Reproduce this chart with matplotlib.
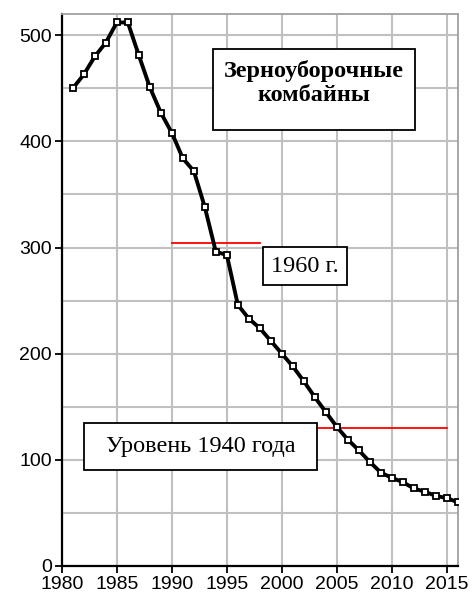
import matplotlib.pyplot as plt
from matplotlib.patches import Rectangle

# Данные: количество комбайнов, тыс. шт.
years = list(range(1981, 2017))
values = [450, 463, 480, 493, 512, 512, 481, 451, 427, 408,
          384, 372, 338, 296, 293, 246, 233, 224, 212, 200,
          188, 174, 159, 145, 131, 119, 109, 98, 88, 83,
          79, 73, 70, 66, 64, 60]

level_1960 = 304
level_1940 = 130

plt.rcParams['font.family'] = ['Liberation Sans', 'DejaVu Sans']

fig = plt.figure(figsize=(4.72, 6), dpi=100)
ax = fig.add_axes([0.131, 0.0567, 0.839, 0.92])

ax.plot(years, values, color='black', linewidth=2.8, marker='s', markersize=5,
        markerfacecolor='white', markeredgecolor='black', markeredgewidth=1.3, zorder=4)

# Уровни 1960 и 1940 годов
ax.plot([1990, 1998], [level_1960, level_1960], color='red', linewidth=1.3, zorder=3)
ax.plot([1998, 2015], [level_1940, level_1940], color='red', linewidth=1.3, zorder=3)

# Подписи в рамках: (x0, y0, ширина, высота, текст, y текста, начертание)
serif = ['Liberation Serif', 'DejaVu Serif']
boxes = [
    (1993.7, 410.5, 18.4, 76.3, 'Зерноуборочные\nкомбайны', 455, 'bold'),
    (1998.3, 264.6, 7.6, 35.8, '1960 г.', 282.5, 'normal'),
    (1982.0, 90.4, 21.2, 44.3, 'Уровень 1940 года', 112.5, 'normal'),
]
for x0, y0, w, h, txt, ty, weight in boxes:
    ax.add_patch(Rectangle((x0, y0), w, h, facecolor='white', edgecolor='black',
                           linewidth=1.3, zorder=5))
    ax.text(x0 + w / 2, ty, txt, ha='center', va='center', fontsize=17.5,
            fontweight=weight, family=serif, linespacing=1.15, zorder=6)

ax.set_xlim(1980, 2016)
ax.set_ylim(0, 520)
ax.set_xticks(range(1980, 2016, 5))
ax.set_yticks(range(0, 501, 100))
ax.set_yticks(range(0, 520, 50), minor=True)
ax.tick_params(axis='both', labelsize=14, direction='out', length=5, width=1.3, pad=2)
ax.tick_params(axis='y', which='minor', length=0)
ax.grid(True, which='both', color='#c0c0c0', linewidth=1.5, zorder=0)
ax.set_axisbelow(True)

for side in ['left', 'bottom']:
    ax.spines[side].set_linewidth(1.6)
for side in ['top', 'right']:
    ax.spines[side].set_color('#a0a0a0')
    ax.spines[side].set_linewidth(1.3)

fig.savefig('out.png', dpi=100)
